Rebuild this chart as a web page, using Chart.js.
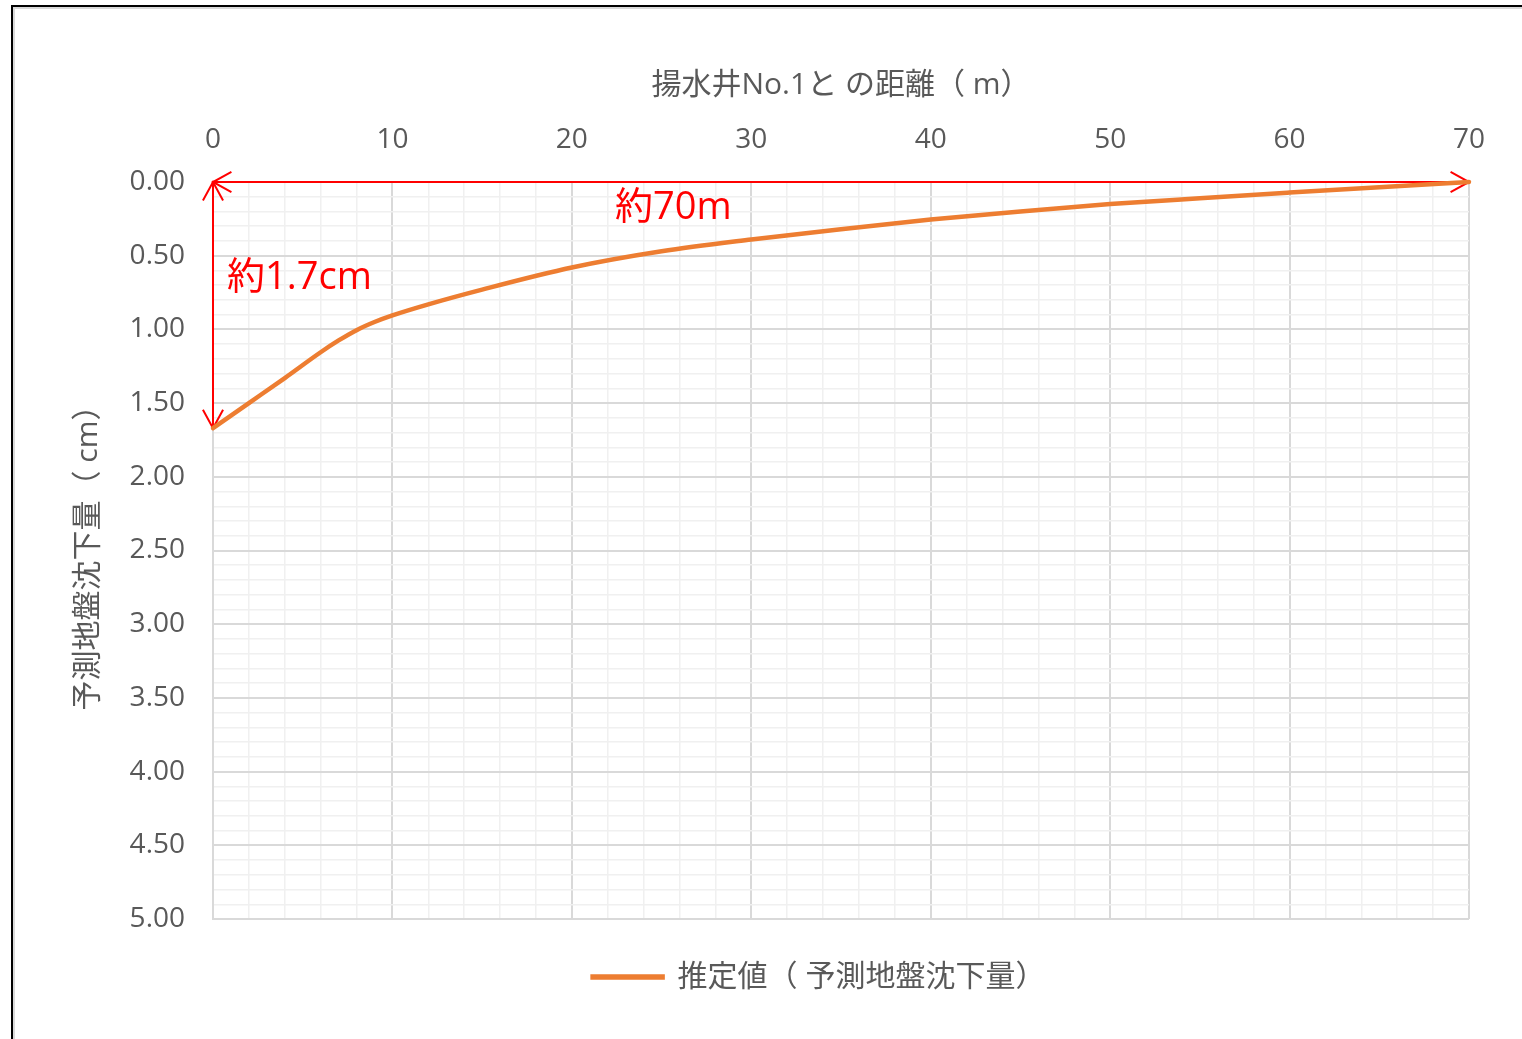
<!DOCTYPE html>
<html>
<head>
<meta charset="utf-8">
<script src="https://cdn.jsdelivr.net/npm/chart.js@4"></script>
<style>
    html, body {
        margin: 0;
        padding: 0;
        background: #fff;
        overflow: hidden;
        width: 1522px;
        height: 1039px;
    }

    .frame {
        position: absolute;
        left: 11px;
        top: 5px;
        border-left: 2px solid #000;
        border-top: 2px solid #000;
    }

    .frame__inner {
        border-left: 2px solid #d9d9d9;
        border-top: 2px solid #d9d9d9;
        background: #fff;
    }

    #chart {
        display: block;
    }
</style>
</head>
<body>
<div class="frame">
    <div class="frame__inner">
        <canvas id="chart" width="1608" height="1030"></canvas>
    </div>
</div>

<script>
// distance from pumping well No.1 (m) and predicted settlement (cm)
const distances = [0, 2, 4, 6, 7, 8, 9, 10, 12, 15, 20, 25, 30, 35, 40, 45, 50, 55, 60, 65, 70];
const settlement = [1.67, 1.50, 1.33, 1.155, 1.075, 1.005, 0.95, 0.905, 0.83, 0.73, 0.58, 0.47, 0.39, 0.32, 0.255, 0.20, 0.15, 0.11, 0.072, 0.035, 0.0];

const xRange = [0, 70];
const yRange = [0, 5];
const xMinorStep = 2, xMajorStep = 10;
const yMinorStep = 0.1, yMajorStep = 0.5;

const seriesName = '推定値（ 予測地盤沈下量）';
const xTitle = '揚水井No.1と の距離（ m）';
const yTitle = '予測地盤沈下量（ cm）';
const spanNote = '約70m';
const depthNote = '約1.7cm';

const fontFamily = "'Open Sans', 'Noto Sans CJK JP', sans-serif";
const textColor = '#595959';
const majorGrid = '#d9d9d9';
const minorGrid = '#f0f0f0';
const lineColor = '#ED7D31';
const noteColor = '#ff0000';

Chart.defaults.font.family = fontFamily;
Chart.defaults.color = textColor;

function isMajor(value, step) {
    return Math.abs(value / step - Math.round(value / step)) < 1e-6;
}

function arrowHead(ctx, tipX, tipY, fromX, fromY) {
    const ang = Math.atan2(tipY - fromY, tipX - fromX);
    const len = 21, spread = 0.5;
    ctx.beginPath();
    ctx.moveTo(tipX - len * Math.cos(ang - spread), tipY - len * Math.sin(ang - spread));
    ctx.lineTo(tipX, tipY);
    ctx.lineTo(tipX - len * Math.cos(ang + spread), tipY - len * Math.sin(ang + spread));
    ctx.stroke();
}

function doubleArrow(ctx, ax, ay, bx, by) {
    ctx.beginPath();
    ctx.moveTo(ax, ay);
    ctx.lineTo(bx, by);
    ctx.stroke();
    arrowHead(ctx, ax, ay, bx, by);
    arrowHead(ctx, bx, by, ax, ay);
}

// red dimension arrows with their notes, under the curve
const notesPlugin = {
    id: 'notes',
    beforeDatasetsDraw(chart) {
        const {ctx, scales: {x, y}} = chart;
        const left = x.getPixelForValue(distances[0]);
        const right = x.getPixelForValue(distances[distances.length - 1]);
        const top = y.getPixelForValue(0);
        const depth = y.getPixelForValue(settlement[0]);

        ctx.save();
        ctx.strokeStyle = noteColor;
        ctx.lineWidth = 2;
        doubleArrow(ctx, left, top, right, top);
        doubleArrow(ctx, left, top, left, depth);

        ctx.fillStyle = noteColor;
        ctx.font = '38px ' + fontFamily;
        ctx.textBaseline = 'middle';
        ctx.textAlign = 'left';
        ctx.fillText(spanNote, x.getPixelForValue(22.4), top + 26);
        ctx.fillText(depthNote, left + 14, y.getPixelForValue(0.65));
        ctx.restore();
    }
};

const ctx = document.getElementById('chart');

new Chart(ctx, {
    type: 'line',
    data: {
        datasets: [{
            label: seriesName,
            data: distances.map((d, i) => ({x: d, y: settlement[i]})),
            borderColor: lineColor,
            backgroundColor: lineColor,
            borderWidth: 4.5,
            borderCapStyle: 'round',
            pointRadius: 0,
            cubicInterpolationMode: 'monotone',
            clip: false,
            xAxisID: 'x',
            yAxisID: 'y'
        }]
    },
    options: {
        responsive: false,
        animation: false,
        layout: {
            padding: {left: 0, right: 0, top: 0, bottom: 37}
        },
        plugins: {
            tooltip: {enabled: false},
            legend: {
                position: 'bottom',
                labels: {
                    font: {size: 30},
                    color: textColor,
                    boxWidth: 70,
                    boxHeight: 1,
                    padding: 43
                }
            }
        },
        scales: {
            x: {
                type: 'linear',
                position: 'top',
                min: xRange[0],
                max: xRange[1],
                afterFit: s => { s.height = 173; },
                title: {
                    display: true,
                    text: xTitle,
                    font: {size: 30},
                    color: textColor,
                    padding: {top: 58, bottom: 0}
                },
                ticks: {
                    stepSize: xMinorStep,
                    autoSkip: false,
                    maxRotation: 0,
                    padding: 25,
                    font: {size: 28},
                    color: textColor,
                    callback: v => isMajor(v, xMajorStep) ? String(v) : ''
                },
                grid: {
                    drawTicks: false,
                    lineWidth: c => isMajor(c.tick.value, xMajorStep) ? 2 : 1.5,
                    color: c => isMajor(c.tick.value, xMajorStep) ? majorGrid : minorGrid
                },
                border: {color: majorGrid, width: 2}
            },
            y: {
                type: 'linear',
                position: 'left',
                reverse: true,
                min: yRange[0],
                max: yRange[1],
                afterFit: s => { s.width = 198; },
                title: {
                    display: true,
                    text: yTitle,
                    font: {size: 30},
                    color: textColor,
                    padding: {top: 55, bottom: 0}
                },
                ticks: {
                    stepSize: yMinorStep,
                    autoSkip: false,
                    padding: 28,
                    font: {size: 28},
                    color: textColor,
                    callback: v => isMajor(v, yMajorStep) ? v.toFixed(2) : ''
                },
                grid: {
                    drawTicks: false,
                    lineWidth: c => isMajor(c.tick.value, yMajorStep) ? 2 : 1.5,
                    color: c => isMajor(c.tick.value, yMajorStep) ? majorGrid : minorGrid
                },
                border: {color: majorGrid, width: 2}
            },
            // empty strip on the right so the legend sits centred on the whole frame
            pad: {
                type: 'linear',
                position: 'right',
                afterFit: s => { s.width = 154; },
                ticks: {display: false},
                grid: {display: false},
                border: {display: false}
            }
        }
    },
    plugins: [notesPlugin]
});
</script>
</body>
</html>
